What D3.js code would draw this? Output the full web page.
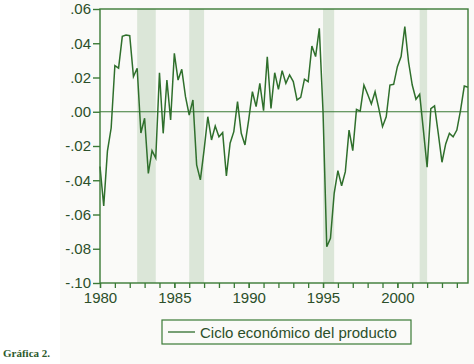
<!DOCTYPE html>
<html><head><meta charset="utf-8">
<script src="https://cdn.jsdelivr.net/npm/d3@7"></script>
<style>
html,body{margin:0;padding:0;background:#ffffff;}
svg{display:block;}
</style></head>
<body>
<svg id="c" width="474" height="364"></svg>
<script>
// Quarterly series 1980Q1 .. 2004Q4
const startYear = 1980;
const cycleValues = [
  -0.032, -0.055, -0.023, -0.0095,
   0.027,  0.0255, 0.044,  0.0448,
   0.0444, 0.0205, 0.0254,-0.0124,
  -0.0038,-0.036, -0.0227,-0.027,
   0.0228,-0.0126, 0.0185,-0.0048,
   0.0341, 0.0185, 0.0248, 0.0088,
  -0.0019, 0.0069,-0.031, -0.0398,
  -0.0223,-0.0029,-0.0165,-0.0083,
  -0.0146,-0.0122,-0.0375,-0.0184,
  -0.0116, 0.0059,-0.0126,-0.0194,
  -0.0048, 0.0117, 0.003,  0.0166,
   0.0006, 0.0321, 0.002,  0.0228,
   0.0131, 0.024,  0.0166, 0.0215,
   0.0176, 0.0069, 0.0084, 0.019,
   0.0176, 0.0384, 0.0322, 0.0487,
   0.0,   -0.0788,-0.0739,-0.0476,
  -0.0344,-0.0432,-0.035, -0.0107,
  -0.0227, 0.0014, 0.0004, 0.0156,
   0.0102, 0.0045, 0.0117, 0.002,
  -0.0087,-0.0029, 0.0156, 0.016,
   0.0263, 0.0322, 0.0497, 0.0292,
   0.0156, 0.0073, 0.0102,-0.0107,
  -0.0324, 0.0018, 0.0034,-0.0126,
  -0.0295,-0.0188,-0.0126,-0.0146,
  -0.0107, 0.001,  0.015,  0.0143
];
const recessionStarts = [1982.5, 1986.0, 1995.0, 2001.5];
const recessionEnds   = [1983.75, 1987.0, 1995.75, 2002.0];
const yTickValues = [0.06, 0.04, 0.02, 0.00, -0.02, -0.04, -0.06, -0.08, -0.10];
const yTickLabels = [".06", ".04", ".02", ".00", "-.02", "-.04", "-.06", "-.08", "-.10"];
const xMajorTicks = [1980, 1985, 1990, 1995, 2000];
const xMinorTicks = d3.range(1980, 2005);
const legendLabel = "Ciclo económico del producto";
const captionLabel = "Gráfica 2.";

const data = cycleValues.map((v, i) => ({t: startYear + i * 0.25, v}));

const green = "#3a7a36";
const lineGreen = "#2f6f2c";
const textColor = "#2c4f2a";
const shade = "#dbe6d8";

const L = 100, R = 468, T = 9, B = 283;
const svg = d3.select("#c");
svg.append("rect").attr("x", 60).attr("y", 0).attr("width", 414).attr("height", 364).attr("fill", "#fafaf8");

const x = d3.scaleLinear().domain([1980, 2004.75]).range([L, R]);
const y = d3.scaleLinear().domain([-0.10, 0.06]).range([B, T]);

// recession shading
svg.append("g").selectAll("rect").data(recessionStarts).join("rect")
  .attr("x", (d) => x(d))
  .attr("width", (d, i) => x(recessionEnds[i]) - x(d))
  .attr("y", T).attr("height", B - T)
  .attr("fill", shade);

// zero line
svg.append("line").attr("x1", L).attr("x2", R).attr("y1", y(0)).attr("y2", y(0))
  .attr("stroke", green).attr("stroke-width", 1.2);

// series line
svg.append("path").datum(data)
  .attr("fill", "none").attr("stroke", lineGreen).attr("stroke-width", 1.5)
  .attr("stroke-linejoin", "miter")
  .attr("d", d3.line().x(d => x(d.t)).y(d => y(d.v)));

// frame
svg.append("rect").attr("x", L).attr("y", T).attr("width", R - L).attr("height", B - T)
  .attr("fill", "none").attr("stroke", green).attr("stroke-width", 1.4);

// y axis
const yAxis = d3.axisLeft(y).tickValues(yTickValues)
  .tickFormat((d, i) => yTickLabels[i]).tickSize(7).tickPadding(2);
const gy = svg.append("g").attr("transform", `translate(${L},0)`).call(yAxis);
gy.select(".domain").remove();
gy.selectAll(".tick line").attr("stroke", green).attr("stroke-width", 1.4);
gy.selectAll(".tick text").attr("fill", textColor)
  .style("font-family", "'Liberation Sans', Arial, sans-serif").style("font-size", "15px");

// x axis minor + major
const xAxisMinor = d3.axisBottom(x).tickValues(xMinorTicks).tickFormat("").tickSize(5);
const gxm = svg.append("g").attr("transform", `translate(0,${B})`).call(xAxisMinor);
gxm.select(".domain").remove();
gxm.selectAll(".tick line").attr("stroke", green).attr("stroke-width", 1.3);

const xAxis = d3.axisBottom(x).tickValues(xMajorTicks).tickFormat(d3.format("d")).tickSize(5).tickPadding(4);
const gx = svg.append("g").attr("transform", `translate(0,${B})`).call(xAxis);
gx.select(".domain").remove();
gx.selectAll(".tick line").attr("stroke", green).attr("stroke-width", 1.3);
gx.selectAll(".tick text").attr("fill", textColor)
  .style("font-family", "'Liberation Sans', Arial, sans-serif").style("font-size", "15px");

// legend
const lg = svg.append("g");
lg.append("rect").attr("x", 162).attr("y", 320).attr("width", 249).attr("height", 24)
  .attr("fill", "none").attr("stroke", green).attr("stroke-width", 1.2);
lg.append("line").attr("x1", 168).attr("x2", 195).attr("y1", 332).attr("y2", 332)
  .attr("stroke", lineGreen).attr("stroke-width", 1.3);
lg.append("text").attr("x", 200).attr("y", 337.5).text(legendLabel)
  .attr("fill", textColor)
  .style("font-family", "'Liberation Sans', Arial, sans-serif").style("font-size", "15px");

// caption
svg.append("text").attr("x", 3).attr("y", 357).text(captionLabel)
  .attr("fill", "#2d5a2d").style("font-weight", "bold")
  .style("font-family", "'Liberation Serif', 'Times New Roman', serif").style("font-size", "11px");
</script>
</body></html>
